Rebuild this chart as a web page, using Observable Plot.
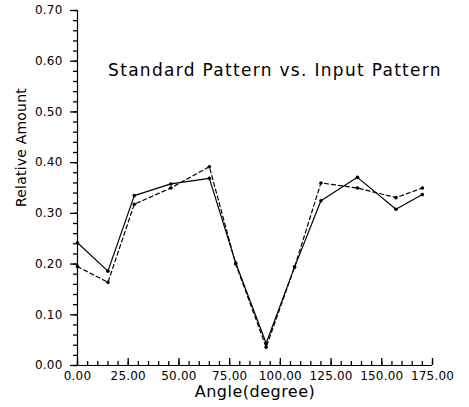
<!DOCTYPE html>
<html>
<head>
<meta charset="utf-8">
<script src="https://cdn.jsdelivr.net/npm/d3@7"></script>
<script src="https://cdn.jsdelivr.net/npm/@observablehq/plot@0.6"></script>
<style>
  html, body { margin: 0; padding: 0; background: #fff; }
  svg { letter-spacing: 0.2px; }
  [font-size="17"] { letter-spacing: 1.3px; }
  [font-size="16"] { letter-spacing: 0.5px; }
  [font-size="14"] { letter-spacing: 0.2px; }
</style>
</head>
<body>
<div id="chart"></div>
<script>
const angles = [0, 15, 28, 46, 65, 78, 93, 107, 120, 138, 157, 170];
const standardPattern = [0.242, 0.186, 0.335, 0.358, 0.369, 0.202, 0.044, 0.194, 0.325, 0.371, 0.308, 0.337];
const inputPattern = [0.195, 0.164, 0.318, 0.350, 0.392, 0.200, 0.036, 0.194, 0.360, 0.350, 0.331, 0.350];

const xTicks = [0, 25, 50, 75, 100, 125, 150, 175];
const yTicks = [0, 0.1, 0.2, 0.3, 0.4, 0.5, 0.6, 0.7];
const xMinorTicks = [0, 5, 10, 15, 20, 25, 30, 35, 40, 45, 50, 55, 60, 65, 70, 75, 80, 85, 90, 95, 100, 105, 110, 115, 120, 125, 130, 135, 140, 145, 150, 155, 160, 165, 170, 175];
const yMinorTicks = [0, 0.02, 0.04, 0.06, 0.08, 0.1, 0.12, 0.14, 0.16, 0.18, 0.2, 0.22, 0.24, 0.26, 0.28, 0.3, 0.32, 0.34, 0.36, 0.38, 0.4, 0.42, 0.44, 0.46, 0.48, 0.5, 0.52, 0.54, 0.56, 0.58, 0.6, 0.62, 0.64, 0.66, 0.68, 0.7];

const titleText = "Standard Pattern vs. Input Pattern";
const xLabel = "Angle(degree)";
const yLabel = "Relative Amount";

const standardData = angles.map((a, i) => ({angle: a, value: standardPattern[i]}));
const inputData = angles.map((a, i) => ({angle: a, value: inputPattern[i]}));

const W = 469, H = 407, ML = 77, MR = 37, MT = 10, MB = 42;
const frameW = W - ML - MR, frameH = H - MT - MB;
const tickColor = "#000";

const chart = Plot.plot({
  width: W,
  height: H,
  marginLeft: ML,
  marginRight: MR,
  marginTop: MT,
  marginBottom: MB,
  x: {domain: [0, 175]},
  y: {domain: [0, 0.7]},
  style: {fontFamily: "'DejaVu Sans', sans-serif", fontSize: "12px", background: "#fff", color: "#000"},
  marks: [
    Plot.ruleY([0], {stroke: "#000", strokeWidth: 1.2}),
    Plot.ruleX([0], {stroke: "#000", strokeWidth: 1.2}),
    Plot.tickX(xMinorTicks, {x: d => d, stroke: tickColor, strokeWidth: 1.3, insetTop: frameH - 4, insetBottom: 0}),
    Plot.tickX(xTicks, {x: d => d, stroke: tickColor, strokeWidth: 1.3, insetTop: frameH - 7, insetBottom: 0}),
    Plot.tickY(yMinorTicks, {y: d => d, stroke: tickColor, strokeWidth: 1.3, insetLeft: -4, insetRight: frameW}),
    Plot.tickY(yTicks, {y: d => d, stroke: tickColor, strokeWidth: 1.3, insetLeft: -7, insetRight: frameW}),
    Plot.axisX({ticks: xTicks, tickSize: 0, tickPadding: 6, tickFormat: d => d.toFixed(2), label: null}),
    Plot.axisY({ticks: yTicks, tickSize: 0, tickPadding: 15, tickFormat: d => d.toFixed(2), label: null}),
    Plot.line(standardData, {x: "angle", y: "value", stroke: "#000", strokeWidth: 1.2}),
    Plot.line(inputData, {x: "angle", y: "value", stroke: "#000", strokeWidth: 1.2, strokeDasharray: "4,3"}),
    Plot.dot(standardData, {x: "angle", y: "value", r: 1.8, fill: "#000"}),
    Plot.dot(inputData, {x: "angle", y: "value", r: 1.8, fill: "#000"}),
    Plot.text([titleText], {frameAnchor: "top", dx: 20, dy: 53, fontSize: 17, fill: "#000"}),
    Plot.text([xLabel], {frameAnchor: "bottom", dy: 31, fontSize: 16, fill: "#000"}),
    Plot.text([yLabel], {frameAnchor: "left", rotate: -90, dx: -56, dy: 19, fontSize: 14, fill: "#000"})
  ]
});
document.getElementById("chart").appendChild(chart);
</script>
</body>
</html>
